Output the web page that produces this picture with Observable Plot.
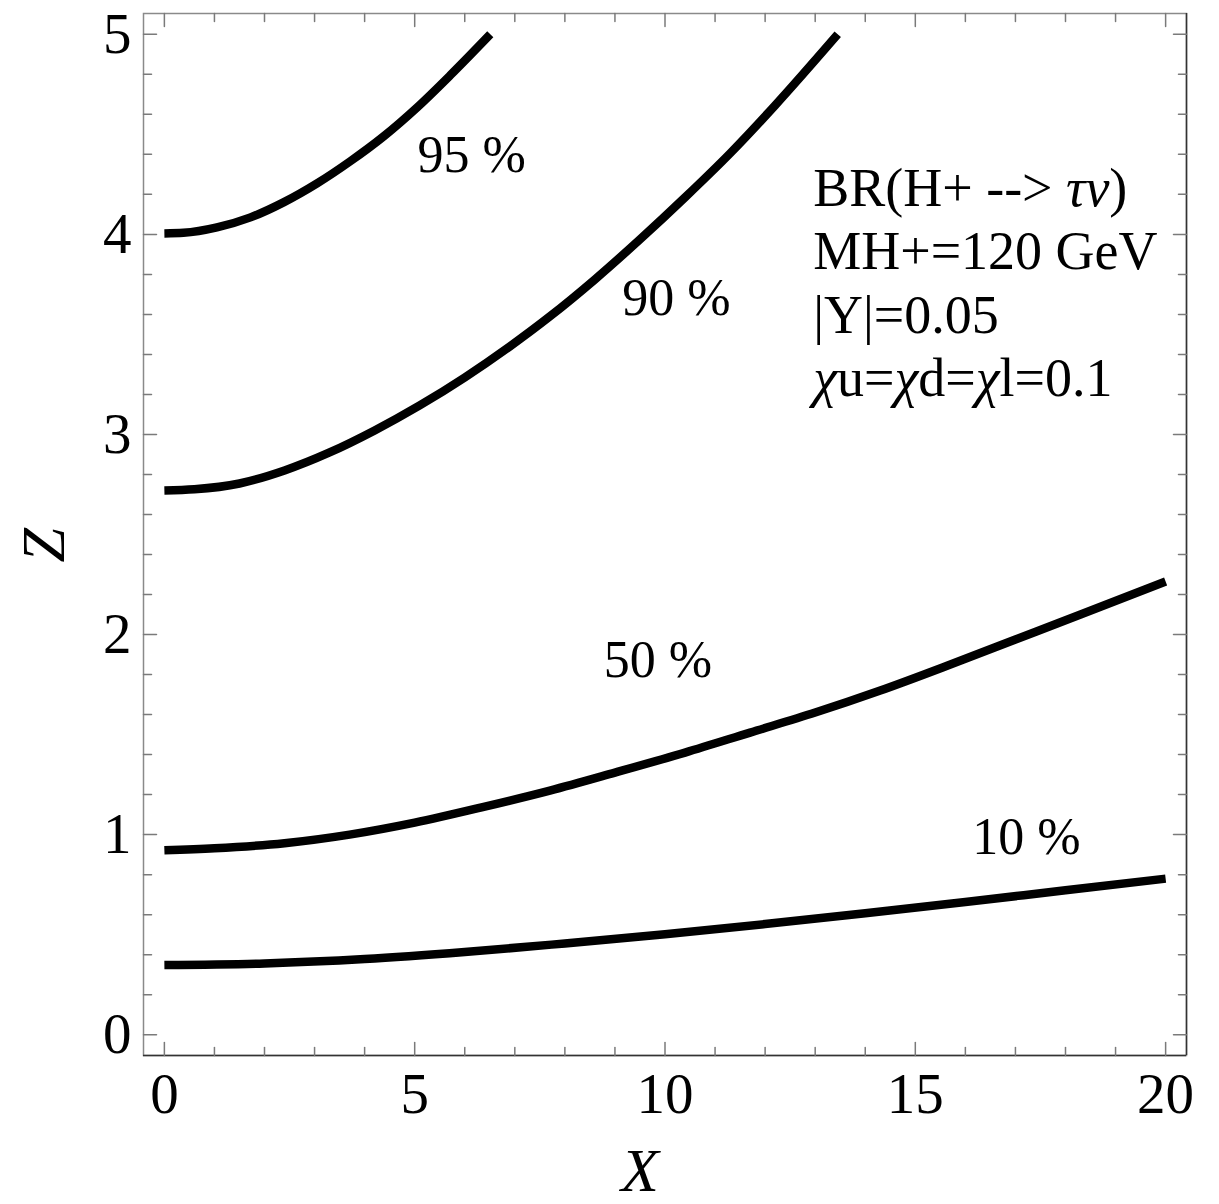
<!DOCTYPE html>
<html><head><meta charset="utf-8">
<script src="https://cdn.jsdelivr.net/npm/d3@7"></script>
<script src="https://cdn.jsdelivr.net/npm/@observablehq/plot@0.6"></script>
<style>html,body{margin:0;padding:0;background:#fff} svg{display:block}</style>
</head><body><div id="chart"></div>
<script>
// ---- data ----
const seriesNames = ["10 %", "50 %", "90 %", "95 %"];
const x10 = [0, 2, 4, 6, 8, 10, 12, 14, 16, 18, 20];
const y10 = [0.348, 0.356, 0.378, 0.413, 0.456, 0.502, 0.553, 0.607, 0.663, 0.722, 0.78];
const x50 = [0, 1, 2.4, 3.7, 5, 6.4, 7.7, 9, 10.4, 11.7, 13, 14.3, 15.7, 17, 18.3, 20];
const y50 = [0.922, 0.932, 0.957, 1.0, 1.06, 1.14, 1.22, 1.31, 1.41, 1.51, 1.61, 1.72, 1.85, 1.975, 2.10, 2.265];
const x90 = [0, 0.6, 1.5, 2.4, 3.3, 4.2, 5.1, 6.0, 6.9, 7.7, 8.6, 9.5, 10.4, 11.3, 12.2, 13.45];
const y90 = [2.72, 2.726, 2.755, 2.82, 2.91, 3.02, 3.145, 3.285, 3.44, 3.59, 3.775, 3.975, 4.185, 4.405, 4.645, 5.0];
const x95 = [0, 0.38, 1.05, 1.72, 2.38, 3.05, 3.71, 4.38, 5.05, 5.71, 6.51];
const y95 = [4.005, 4.008, 4.035, 4.085, 4.16, 4.255, 4.365, 4.49, 4.635, 4.795, 5.0];

// contour labels (text, x, y in data units)
const labelText = ["95 %", "90 %", "50 %", "10 %"];
const labelX = [6.14, 10.23, 9.86, 17.22];
const labelY = [4.31, 3.595, 1.787, 0.905];

const infoLines = ["BR(H+ --> τν)", "MH+=120 GeV", "|Y|=0.05", "χu=χd=χl=0.1"];

const xTicksMajor = [0, 5, 10, 15, 20];
const xTicksMinor = [1, 2, 3, 4, 6, 7, 8, 9, 11, 12, 13, 14, 16, 17, 18, 19];
const yTicksMajor = [0, 1, 2, 3, 4, 5];
const yTicksMinor = [0.2, 0.4, 0.6, 0.8, 1.2, 1.4, 1.6, 1.8, 2.2, 2.4, 2.6, 2.8, 3.2, 3.4, 3.6, 3.8, 4.2, 4.4, 4.6, 4.8];

const xDomain = [-0.417, 20.417];
const yDomain = [-0.104, 5.104];

// ---- build table ----
const seriesXY = [[x10, y10], [x50, y50], [x90, y90], [x95, y95]];
const rows = seriesNames.flatMap((name, i) => seriesXY[i][0].map((x, j) => ({series: name, x, y: seriesXY[i][1][j]})));
const labels = labelText.map((t, i) => ({t, x: labelX[i], y: labelY[i]}));

const serif = "'Liberation Serif', 'Times New Roman', Times, serif";
const tickShape = {draw(ctx, l) { ctx.moveTo(0, 0); ctx.lineTo(0, -l); }};
const tickColor = "#7a7a7a";
const tk = (data, ch, frameAnchor, rotate, length) =>
  Plot.vector(data, {[ch]: d => d, frameAnchor, rotate, length, anchor: "start", shape: tickShape, stroke: tickColor, strokeWidth: 1.5});

const chart = Plot.plot({
  width: 1219, height: 1204,
  marginLeft: 143, marginRight: 33, marginTop: 13, marginBottom: 149,
  style: {fontFamily: serif, color: "black", background: "white"},
  x: {domain: xDomain},
  y: {domain: yDomain},
  marks: [
    Plot.frame({stroke: "#8a8a8a", strokeWidth: 1.5}),
    Plot.ruleY([yDomain[0]], {stroke: "#333", strokeWidth: 1.5}),
    Plot.ruleX([xDomain[1]], {stroke: "#333", strokeWidth: 1.5}),
    tk(xTicksMajor, "x", "bottom", 0, 13),
    tk(xTicksMinor, "x", "bottom", 0, 8),
    tk(xTicksMajor, "x", "top", 180, 13),
    tk(xTicksMinor, "x", "top", 180, 8),
    tk(yTicksMajor, "y", "left", 90, 13),
    tk(yTicksMinor, "y", "left", 90, 8),
    tk(yTicksMajor, "y", "right", -90, 13),
    tk(yTicksMinor, "y", "right", -90, 8),
    Plot.axisX(xTicksMajor, {tickSize: 0, tickPadding: 17, fontSize: 57, fontFamily: serif, label: null, fill: "black", tickFormat: d => String(d)}),
    Plot.axisY(yTicksMajor, {tickSize: 0, tickPadding: 12, fontSize: 57, fontFamily: serif, label: null, fill: "black", tickFormat: d => String(d)}),
    Plot.line(rows, {x: "x", y: "y", z: "series", stroke: "black", strokeWidth: 8.5, curve: "monotone-x", strokeLinecap: "butt", strokeLinejoin: "round"}),
    Plot.text(labels, {x: "x", y: "y", text: "t", fontSize: 52, fontFamily: serif, lineAnchor: "bottom", textAnchor: "middle", fill: "black"}),
    Plot.text([infoLines.join("\n")], {x: 12.96, y: 4.368, fontSize: 54, fontFamily: serif, lineAnchor: "top", textAnchor: "start", lineHeight: 1.175, fill: "black"}),
    Plot.text(["X"], {x: 9.5, frameAnchor: "bottom", dy: 135, lineAnchor: "bottom", fontSize: 62, fontStyle: "italic", fontFamily: serif, fill: "black"}),
    Plot.text(["Z"], {y: 2.36, frameAnchor: "left", dx: -80, rotate: -90, lineAnchor: "bottom", fontSize: 62, fontStyle: "italic", fontFamily: serif, fill: "black"})
  ]
});

// italicise Greek letters in the annotation
const greek = /([\u0370-\u03FF]+)/;
chart.querySelectorAll("text, tspan").forEach(el => {
  if (el.children.length) return;
  const s = el.textContent;
  if (!greek.test(s)) return;
  el.textContent = "";
  s.split(greek).forEach(part => {
    if (!part) return;
    const t = document.createElementNS("http://www.w3.org/2000/svg", "tspan");
    t.textContent = part;
    if (greek.test(part)) t.setAttribute("font-style", "italic");
    el.appendChild(t);
  });
});

document.getElementById("chart").appendChild(chart);
</script>
</body></html>
